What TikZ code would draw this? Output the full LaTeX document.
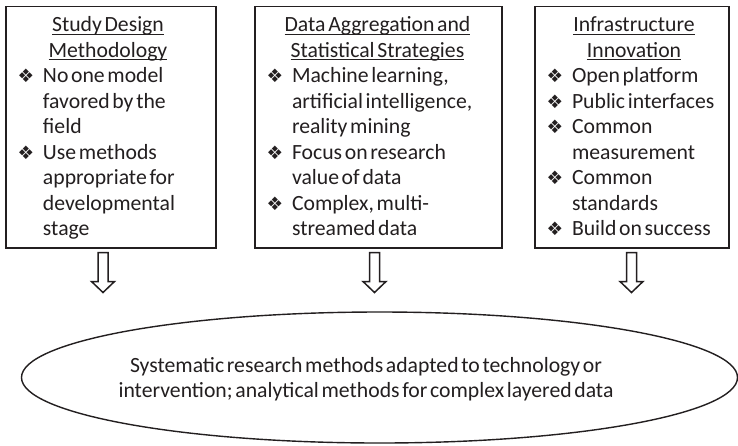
\documentclass[tikz,border=0pt]{standalone}
\usepackage{fontspec}
\setmainfont[WordSpace=0.55]{Carlito}
\newfontfamily\dingfont{DejaVu Sans}
\usetikzlibrary{shapes.geometric}
\definecolor{ink}{RGB}{35,31,32}
% underlined heading line
\newcommand{\ttl}[1]{\setbox0=\hbox{#1}\rlap{\rule[-3.4pt]{\wd0}{1.1pt}}\box0}
% bullet and continuation indent
\newcommand{\bul}{\makebox[24.5pt][l]{\hspace*{-1pt}\dingfont\fontsize{18.5}{18.5}\selectfont\char"2756}}
\newcommand{\cont}{\hspace*{24.5pt}}
\newcommand{\firstline}{\rule{0pt}{18pt}}
% hollow down arrow starting at a coordinate
\newcommand{\hollowarrow}[1]{\draw[hollow] (#1) ++(-5,0) -- ++(0,-29) -- ++(-6.5,0) -- ++(11.5,-11) -- ++(11.5,11) -- ++(-6.5,0) -- ++(0,29) -- cycle;}

\begin{document}
\begin{tikzpicture}[x=1pt,y=1pt,
  every node/.style={inner sep=0pt, outer sep=0pt, text=ink},
  panel/.style={draw=ink, line width=1.7pt, rectangle},
  txt/.style={font=\fontsize{21.7}{25.5}\selectfont},
  heading/.style={txt, align=center, anchor=north},
  items/.style={txt, align=left, anchor=north west},
  hollow/.style={draw=ink, line width=1.5pt, fill=white, line join=miter},
  goal/.style={draw=ink, line width=1.4pt, ellipse}]
\useasboundingbox (0,0) rectangle (738,-445);
\fill[white] (0,0) rectangle (738,-445);

% three panels
\node[panel, minimum width=210pt, minimum height=241.5pt] (b1) at (111,-127.25) {};
\node[panel, minimum width=247pt, minimum height=241.5pt] (b2) at (378.5,-127.25) {};
\node[panel, minimum width=194pt, minimum height=241.5pt] (b3) at (632,-127.25) {};

% headings
\node[heading] (h1) at (108,-13.5) {\firstline\ttl{Study Design}\\\ttl{Methodology}};
\node[heading] (h2) at (377.5,-13.5) {\firstline\ttl{Data Aggregation and}\\\ttl{Statistical Strategies}};
\node[heading] (h3) at (634,-13.5) {\firstline\ttl{Infrastructure}\\\ttl{Innovation}};

% bullet lists
\node[items] (l1) at (18.5,-64.5) {\firstline\bul No one model\\
  \cont favored by the\\
  \cont field\\
  \bul Use methods\\
  \cont appropriate for\\
  \cont developmental\\
  \cont stage};
\node[items] (l2) at (267.5,-64.5) {\firstline\bul Machine learning,\\
  \cont artificial intelligence,\\
  \cont reality mining\\
  \bul Focus on research\\
  \cont value of data\\
  \bul Complex, multi-\\
  \cont streamed data};
\node[items] (l3) at (547.5,-64.5) {\firstline\bul Open platform\\
  \bul Public interfaces\\
  \bul Common\\
  \cont measurement\\
  \bul Common\\
  \cont standards\\
  \bul Build on success};

% arrows below the panels
\coordinate (a1) at (103,-252.5);
\coordinate (a2) at (374.5,-252.5);
\coordinate (a3) at (631.5,-252.5);
\hollowarrow{a1}
\hollowarrow{a2}
\hollowarrow{a3}

% outcome ellipse
\node[goal, minimum width=716pt, minimum height=131pt] (e) at (379.5,-377.5) {};
\node[txt, align=center, anchor=north] (et) at (366,-354) {\firstline Systematic research methods adapted to technology or\\
  intervention; analytical methods for complex layered data};
\end{tikzpicture}
\end{document}
